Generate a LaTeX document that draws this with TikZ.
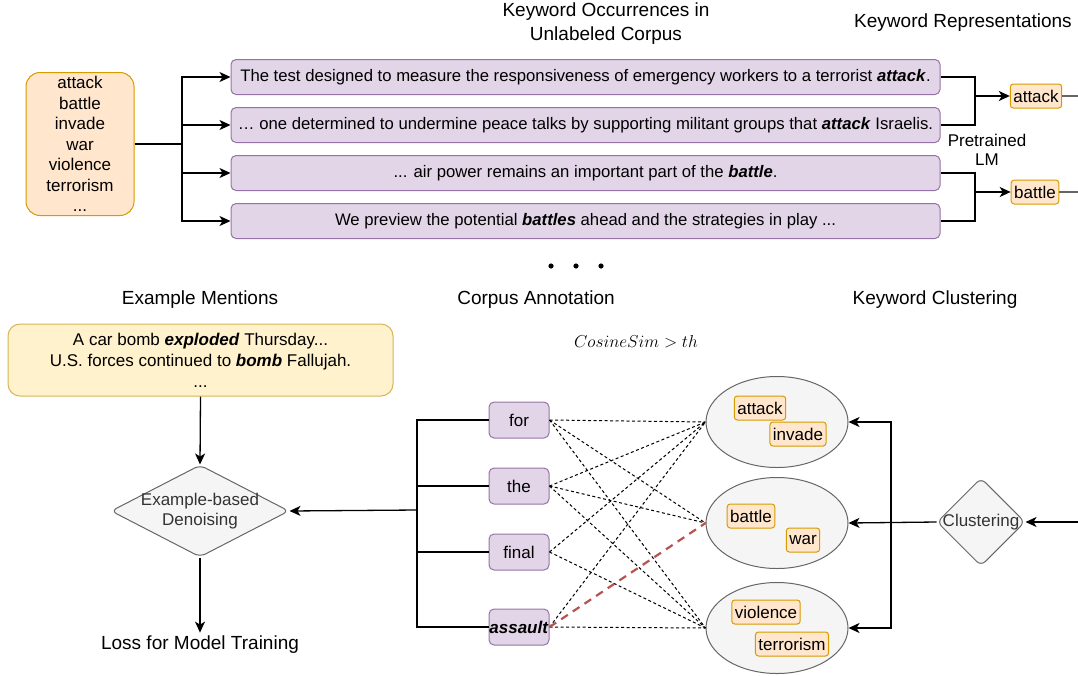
\documentclass[tikz,border=0pt]{standalone}
\usepackage{fontspec}
\setmainfont{Liberation Sans}
\usetikzlibrary{shapes.geometric,arrows.meta}
\definecolor{orfill}{HTML}{FFE6CC}
\definecolor{ordraw}{HTML}{D79B00}
\definecolor{pufill}{HTML}{E1D5E7}
\definecolor{pudraw}{HTML}{9673A6}
\definecolor{yefill}{HTML}{FFF2CC}
\definecolor{yedraw}{HTML}{D6B656}
\definecolor{grfill}{HTML}{F5F5F5}
\definecolor{grdraw}{HTML}{666666}
\definecolor{grtext}{HTML}{333333}
\definecolor{redline}{HTML}{B85450}
\newcommand{\kw}[1]{\textbf{\textit{#1}}}

\begin{document}
\begin{tikzpicture}[x=1pt,y=-1pt,
   every node/.style={font=\fontsize{17}{20.5}\selectfont},
   title/.style={font=\fontsize{19}{24}\selectfont, align=center},
   kwlist/.style={draw=ordraw, fill=orfill, line width=1pt, rounded corners=14pt, minimum width=108pt, minimum height=143pt, align=center},
   sent/.style={draw=pudraw, fill=pufill, line width=1pt, rounded corners=5pt, minimum width=709pt, minimum height=35pt, inner sep=0pt, font=\fontsize{16.7}{20}\selectfont},
   tok/.style={draw=pudraw, fill=pufill, line width=1pt, rounded corners=5pt, minimum width=60pt, minimum height=36pt, inner sep=0pt},
   kwbox/.style={draw=ordraw, fill=orfill, line width=1pt, rounded corners=3pt, minimum height=24pt, inner xsep=3pt, inner ysep=0pt},
   cluster/.style={ellipse, draw=grdraw, fill=grfill, line width=1pt, minimum width=142pt, minimum height=91pt},
   decide/.style={diamond, draw=grdraw, fill=grfill, text=grtext, line width=1pt, rounded corners=6pt, align=center, inner sep=-4pt},
   conn/.style={line width=1.3pt},
   arr/.style={line width=1.3pt, -{Stealth[length=11pt,width=10pt,inset=3pt]}},
   sim/.style={line width=1pt, dash pattern=on 3pt off 2.5pt},
   simred/.style={line width=2.2pt, redline, dash pattern=on 8pt off 6pt}]
   \useasboundingbox (0,0) rectangle (1078,675);

   % top row
   \node[title] (occ) at (606,24) {Keyword Occurrences in\\Unlabeled Corpus};
   \node[title] (rep) at (963,23) {Keyword Representations};
   \node[kwlist] (kwl) at (80,144) {attack\\battle\\invade\\war\\violence\\terrorism\\...};
   \node[sent] (s1) at (585.5,77) {The test designed to measure the responsiveness of emergency workers to a terrorist \kw{attack}.};
   \node[sent] (s2) at (585.5,125) {… one determined to undermine peace talks by supporting militant groups that \kw{attack} Israelis.};
   \node[sent] (s3) at (585.5,173) {... air power remains an important part of the \kw{battle}.};
   \node[sent] (s4) at (585.5,221) {We preview the potential \kw{battles} ahead and the strategies in play ...};
   \coordinate (fan) at (182,144);
   \draw[conn, line width=2pt] (kwl.east) -- (fan);
   \foreach \s in {s1,s2,s3,s4}
      \draw[arr] (fan) |- (\s.west);

   \node[kwbox] (ratk) at (1036,96) {attack};
   \node[kwbox] (rbat) at (1035,192) {battle};
   \node[align=center, font=\fontsize{17}{19.5}\selectfont] (plm) at (987,150) {Pretrained\\LM};
   \coordinate (lmA) at (975,96);
   \coordinate (lmB) at (975,192);
   \draw[conn] (s1.east) -| (lmA) |- (s2.east);
   \draw[conn] (s3.east) -| (lmB) |- (s4.east);
   \draw[arr] (lmA) -- (ratk.west);
   \draw[arr] (lmB) -- (rbat.west);
   \coordinate (outA) at (1078,96);
   \coordinate (outB) at (1078,192);
   \draw[conn, grdraw] (ratk.east) -- (outA);
   \draw[conn, grdraw] (rbat.east) -- (outB);

   \foreach \x in {551,576,601}
      \fill (\x,266) circle (2.6);

   % bottom row
   \node[title] (exm) at (200,300) {Example Mentions};
   \node[title] (can) at (536,300) {Corpus Annotation};
   \node[title] (kcl) at (935,300) {Keyword Clustering};
   \node (cos) at (636,342) {$CosineSim > th$};

   \node[draw=yedraw, fill=yefill, line width=1pt, rounded corners=12pt, minimum width=385pt, minimum height=72pt, align=center, font=\fontsize{17}{21}\selectfont] (ment) at (200.5,360)
      {A car bomb \kw{exploded} Thursday...\\U.S. forces continued to \kw{bomb} Fallujah.\\...};
   \node[decide, minimum width=178pt, minimum height=92pt, aspect=2] (den) at (200,511) {Example-based\\Denoising};
   \node[title] (loss) at (200,645) {Loss for Model Training};
   \draw[arr] (ment.south) -- (den.north);
   \draw[arr] (den.south) -- (loss.north);

   \node[tok] (t1) at (519,420) {for};
   \node[tok] (t2) at (519,486) {the};
   \node[tok] (t3) at (519,552) {final};
   \node[tok] (t4) at (519,627) {\kw{assault}};
   \coordinate (ca) at (417,510);
   \foreach \t in {t1,t2,t3,t4}
      \draw[conn] (ca) |- (\t.west);
   \draw[arr] (ca) -- (den.east);

   \node[cluster] (c1) at (777,422) {};
   \node[cluster] (c2) at (777,523) {};
   \node[cluster] (c3) at (777,628) {};
   \node[kwbox] at (760,408) (k1) {attack};
   \node[kwbox] at (798,434) (k2) {invade};
   \node[kwbox] at (751,516) (k3) {battle};
   \node[kwbox] at (803,540) (k4) {war};
   \node[kwbox] at (766,612) (k5) {violence};
   \node[kwbox] at (792,644) (k6) {terrorism};

   \foreach \t/\c in {t1/c1,t1/c2,t1/c3,t2/c1,t2/c2,t2/c3,t3/c1,t3/c3,t4/c1,t4/c3}
      \draw[sim] (\t.east) -- (\c.west);
   \draw[simred] (t4.east) -- (c2.west);

   \node[decide, minimum width=88pt, minimum height=88pt] (clu) at (981,522) {Clustering};
   \coordinate (inC) at (1078,522);
   \coordinate (jn) at (891,522);
   \draw[arr] (inC) -- (clu.east);
   \draw[arr] (clu.west) -- (c2.east);
   \draw[arr] (jn) |- (c1.east);
   \draw[arr] (jn) |- (c3.east);
\end{tikzpicture}
\end{document}
